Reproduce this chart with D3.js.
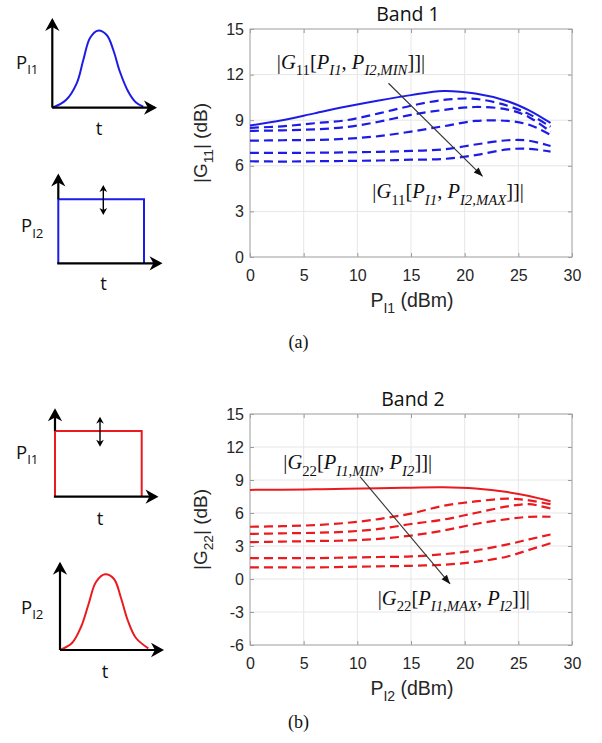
<!DOCTYPE html>
<html><head><meta charset="utf-8">
<script src="https://cdn.jsdelivr.net/npm/d3@7"></script>
<style>body{margin:0;background:#fff} svg{display:block}</style>
</head><body>
<svg id="c" width="602" height="743"></svg>
<script>
// ---------------- data ----------------
const xTicks = [0, 5, 10, 15, 20, 25, 30];
const yTicksTop = [0, 3, 6, 9, 12, 15];
const yTicksBot = [-6, -3, 0, 3, 6, 9, 12, 15];
const pIn = [0, 3, 6, 9, 12, 15, 18, 21, 24, 26, 28];   // input power (dBm)

// Band 1: |G11| (dB) vs P_I1, for increasing P_I2 (MIN -> MAX)
const g11Min   = [8.65, 9.0, 9.45, 9.9, 10.3, 10.65, 10.92, 10.75, 10.25, 9.65, 8.82];
const g11Lvl2  = [8.5, 8.6, 8.8, 9.0, 9.45, 9.95, 10.33, 10.4, 9.95, 9.4, 8.57];
const g11Lvl3  = [8.3, 8.33, 8.4, 8.55, 8.9, 9.35, 9.67, 9.87, 9.7, 9.2, 8.24];
const g11Lvl4  = [7.65, 7.68, 7.7, 7.78, 7.95, 8.25, 8.6, 8.95, 8.95, 8.7, 8.03];
const g11Lvl5  = [6.85, 6.85, 6.86, 6.88, 6.92, 6.98, 7.08, 7.4, 7.68, 7.65, 7.3];
const g11Max   = [6.3, 6.28, 6.3, 6.32, 6.35, 6.4, 6.45, 6.7, 7.08, 7.12, 6.93];

// Band 2: |G22| (dB) vs P_I2, for increasing P_I1 (MIN -> MAX)
const g22Min   = [8.1, 8.12, 8.15, 8.2, 8.25, 8.3, 8.33, 8.22, 7.9, 7.55, 7.06];
const g22Lvl2  = [4.75, 4.8, 4.9, 5.1, 5.45, 5.95, 6.65, 7.05, 7.3, 7.15, 6.8];
const g22Lvl3  = [4.1, 4.15, 4.2, 4.3, 4.55, 5.0, 5.4, 6.0, 6.6, 6.8, 6.4];
const g22Lvl4  = [3.35, 3.4, 3.45, 3.5, 3.65, 3.95, 4.4, 5.0, 5.45, 5.65, 5.66];
const g22Lvl5  = [1.9, 1.9, 1.9, 1.95, 2.0, 2.05, 2.25, 2.6, 3.15, 3.6, 4.05];
const g22Max   = [1.05, 1.05, 1.05, 1.1, 1.15, 1.2, 1.3, 1.55, 2.05, 2.65, 3.25];

// schematic pulse shapes for the little icons (hand-read points, px)
const bellTop = [[52.3,107.7],[66,100],[76.7,83.3],[83.3,60],[90,38],[97.7,30.7],[106.7,35],[113.3,50],[120,72],[128.3,91.7],[136,102.5],[143.3,106.7]];
const bellBot = [[60,650],[72,643],[81,627],[88.3,605],[96,582],[105,574.3],[114,579],[121,598],[128,621],[136,638],[148.3,648.3]];

// ---------------- drawing ----------------
const svg = d3.select("#c");
svg.append("rect").attr("width",602).attr("height",743).attr("fill","#fff");

const BLUE = "#1c1ce6", RED = "#ea1a1f";
const SANS = "'Liberation Sans', Arial, sans-serif";
const SERIF = "'Liberation Serif', 'Times New Roman', serif";
const ICONF = "'Open Sans', sans-serif";

function rich(g, segs, size, family) {
  const t = g.append("text").attr("font-family", family).attr("font-size", size);
  let shift = 0;
  segs.forEach(s => {
    const want = s.sub ? size * 0.32 : 0;
    const ts = t.append("tspan").text(s.t);
    if (want !== shift) { ts.attr("dy", want - shift); shift = want; }
    if (s.sub) ts.attr("font-size", size * 0.72);
    if (s.it) ts.attr("font-style", "italic");
  });
  return t;
}

function panel(o) {
  const x = d3.scaleLinear().domain([0, 30]).range([250, 572]);
  const y = d3.scaleLinear().domain(o.yDom).range([o.bottom, o.top]);
  const g = svg.append("g");
  // grid
  g.selectAll(".gx").data(xTicks).join("line")
    .attr("x1", d => x(d)).attr("x2", d => x(d)).attr("y1", o.top).attr("y2", o.bottom)
    .attr("stroke", "#e6e6e6").attr("stroke-width", 1);
  g.selectAll(".gy").data(o.yTicks).join("line")
    .attr("y1", d => y(d)).attr("y2", d => y(d)).attr("x1", 250).attr("x2", 572)
    .attr("stroke", "#e6e6e6").attr("stroke-width", 1);
  // axes (labels)
  const fmt = d => String(d);
  const ax = g.append("g").attr("transform", `translate(0,${o.bottom})`)
    .call(d3.axisBottom(x).tickValues(xTicks).tickSize(-4).tickPadding(13).tickFormat(fmt));
  const ay = g.append("g").attr("transform", `translate(250,0)`)
    .call(d3.axisLeft(y).tickValues(o.yTicks).tickSize(-4).tickPadding(6).tickFormat(fmt));
  const ay2 = g.append("g").attr("transform", `translate(572,0)`)
    .call(d3.axisRight(y).tickValues(o.yTicks).tickSize(-4).tickFormat(""));
  const ax2 = g.append("g").attr("transform", `translate(0,${o.top})`)
    .call(d3.axisTop(x).tickValues(xTicks).tickSize(-4).tickFormat(""));
  [ax, ay, ay2, ax2].forEach(a => {
    a.select(".domain").remove();
    a.selectAll("line").attr("stroke", "#9a9a9a");
    a.selectAll("text").attr("font-family", SANS).attr("font-size", 16).attr("fill", "#262626");
  });
  // box
  g.append("rect").attr("x", 250).attr("y", o.top).attr("width", 322).attr("height", o.bottom - o.top)
    .attr("fill", "none").attr("stroke", "#a8a8a8").attr("stroke-width", 1);
  // curves
  const line = d3.line().x((d, i) => x(pIn[i])).y(d => y(d)).curve(d3.curveCatmullRom.alpha(0.5));
  o.series.forEach((s, i) => {
    g.append("path").attr("d", line(s)).attr("fill", "none").attr("stroke", o.color)
      .attr("stroke-width", i === 0 ? 2 : 2.2)
      .attr("stroke-dasharray", i === 0 ? null : "9,5");
  });
  // title
  g.append("text").attr("x", o.titleX).attr("y", o.top - 8).attr("text-anchor", "middle")
    .attr("font-family", ICONF).attr("font-size", 19.5).attr("fill", "#111").text(o.title);
  // x label
  rich(g.append("g").attr("transform", `translate(412,${o.bottom + 50})`), o.xLabel, 19.5, SANS)
    .attr("text-anchor", "middle").attr("fill", "#262626");
  // y label
  rich(g.append("g").attr("transform", `translate(207,${(o.top + o.bottom) / 2}) rotate(-90)`), o.yLabel, 19, SANS)
    .attr("text-anchor", "middle").attr("fill", "#262626");
  // arrow annotation
  const [a0, a1] = o.arrow;
  const p0 = [x(a0[0]), y(a0[1])], p1 = [x(a1[0]), y(a1[1])];
  g.append("line").attr("x1", p0[0]).attr("y1", p0[1]).attr("x2", p1[0]).attr("y2", p1[1])
    .attr("stroke", "#333").attr("stroke-width", 1.1);
  const ang = Math.atan2(p1[1] - p0[1], p1[0] - p0[0]) * 180 / Math.PI;
  g.append("path").attr("d", "M0,0 L-9,-3.5 L-9,3.5 Z").attr("fill", "#111")
    .attr("transform", `translate(${p1[0]},${p1[1]}) rotate(${ang})`);
  // annotation texts
  o.notes.forEach(n => {
    rich(g.append("g").attr("transform", `translate(${x(n.at[0])},${y(n.at[1])})`), n.segs, 20.5, SERIF)
      .attr("fill", "#111");
  });
  // panel tag
  g.append("text").attr("x", 298.5).attr("y", o.tagY).attr("text-anchor", "middle")
    .attr("font-family", SERIF).attr("font-size", 18).attr("fill", "#111").text(o.tag);
}

const noteSegs = (gi, a, b) => [
  {t: "|"}, {t: "G", it: true}, {t: gi, sub: true}, {t: "["},
  {t: "P", it: true}, {t: a, sub: true, it: true}, {t: ", "},
  {t: "P", it: true}, {t: b, sub: true, it: true}, {t: "]]|"}
];

panel({
  yDom: [0, 15], yTicks: yTicksTop, top: 29, bottom: 257, color: BLUE,
  series: [g11Min, g11Lvl2, g11Lvl3, g11Lvl4, g11Lvl5, g11Max],
  title: "Band 1", titleX: 408,
  xLabel: [{t: "P"}, {t: "I1", sub: true}, {t: " (dBm)"}],
  yLabel: [{t: "|G"}, {t: "11", sub: true}, {t: "| (dB)"}],
  arrow: [[12.9, 11.43], [21.67, 5.31]],
  notes: [
    {at: [2.5, 12.4], segs: noteSegs("11", "I1", "I2,MIN")},
    {at: [11.4, 3.86], segs: noteSegs("11", "I1", "I2,MAX")}
  ],
  tag: "(a)", tagY: 348
});

panel({
  yDom: [-6, 15], yTicks: yTicksBot, top: 414, bottom: 645, color: RED,
  series: [g22Min, g22Lvl2, g22Lvl3, g22Lvl4, g22Lvl5, g22Max],
  title: "Band 2", titleX: 413,
  xLabel: [{t: "P"}, {t: "I2", sub: true}, {t: " (dBm)"}],
  yLabel: [{t: "|G"}, {t: "22", sub: true}, {t: "| (dB)"}],
  arrow: [[10.25, 9.3], [18.64, -0.45]],
  notes: [
    {at: [3.1, 10.0], segs: noteSegs("22", "I1,MIN", "I2")},
    {at: [11.9, -2.35], segs: noteSegs("22", "I1,MAX", "I2")}
  ],
  tag: "(b)", tagY: 728
});

// ---------------- icons ----------------
function arrowHead(g, x, y, ang, s) {
  g.append("path").attr("d", `M0,0 L${-s},${-s*0.55} L${-s*0.7},0 L${-s},${s*0.55} Z`)
    .attr("fill", "#000").attr("transform", `translate(${x},${y}) rotate(${ang})`);
}
function axesIcon(ox, oy, topY, rightX) {
  const g = svg.append("g");
  g.append("line").attr("x1", ox).attr("y1", oy).attr("x2", ox).attr("y2", topY + 2)
    .attr("stroke", "#000").attr("stroke-width", 2.2);
  g.append("line").attr("x1", ox).attr("y1", oy).attr("x2", rightX - 2).attr("y2", oy)
    .attr("stroke", "#000").attr("stroke-width", 2.2);
  arrowHead(g, ox, topY, -90, 13);
  arrowHead(g, rightX, oy, 0, 13);
  return g;
}
function dblArrow(x, y1, y2) {
  const g = svg.append("g");
  g.append("line").attr("x1", x).attr("x2", x).attr("y1", y1 + 3).attr("y2", y2 - 3)
    .attr("stroke", "#000").attr("stroke-width", 1.4);
  arrowHead(g, x, y1, -90, 7);
  arrowHead(g, x, y2, 90, 7);
}
function iconLabel(x, y, sub) {
  rich(svg.append("g").attr("transform", `translate(${x},${y})`), [{t: "P"}, {t: sub, sub: true}], 18.5, ICONF)
    .attr("fill", "#111");
}
function tLabel(x, y) {
  svg.append("text").attr("x", x).attr("y", y).attr("text-anchor", "middle")
    .attr("font-family", ICONF).attr("font-size", 18.5).attr("fill", "#111").text("t");
}
const bell = d3.line().curve(d3.curveCatmullRom.alpha(0.5));

// top pair (blue)
{
  const g = axesIcon(52.3, 107.7, 18, 157);
  g.insert("path", ":first-child").attr("d", bell(bellTop)).attr("fill", "none").attr("stroke", BLUE).attr("stroke-width", 2);
  iconLabel(16, 68.5, "I1"); tLabel(99, 135);

  const g2 = svg.append("g");
  g2.append("path").attr("d", "M58.3,263.3 V199.3 H144 V263.3").attr("fill", "none").attr("stroke", BLUE).attr("stroke-width", 2);
  svg.append("line").attr("x1", 58.3).attr("x2", 58.3).attr("y1", 199.3).attr("y2", 176).attr("stroke", "#000").attr("stroke-width", 2.2);
  svg.append("line").attr("x1", 57.2).attr("x2", 160).attr("y1", 263.3).attr("y2", 263.3).attr("stroke", "#000").attr("stroke-width", 2.2);
  arrowHead(svg, 58.3, 173.5, -90, 13); arrowHead(svg, 162.5, 263.3, 0, 13);
  dblArrow(103.3, 185, 215);
  iconLabel(21, 232, "I2"); tLabel(103.5, 290);
}
// bottom pair (red)
{
  const g2 = svg.append("g");
  g2.append("path").attr("d", "M55,496.7 V431 H141.7 V496.7").attr("fill", "none").attr("stroke", RED).attr("stroke-width", 2);
  svg.append("line").attr("x1", 55).attr("x2", 55).attr("y1", 431).attr("y2", 411).attr("stroke", "#000").attr("stroke-width", 2.2);
  svg.append("line").attr("x1", 53.9).attr("x2", 156).attr("y1", 496.7).attr("y2", 496.7).attr("stroke", "#000").attr("stroke-width", 2.2);
  arrowHead(svg, 55, 408.3, -90, 13); arrowHead(svg, 158.5, 496.7, 0, 13);
  dblArrow(100, 416.7, 446.7);
  iconLabel(16, 458.5, "I1"); tLabel(100, 525);

  const g = axesIcon(60, 650, 561.7, 164);
  g.insert("path", ":first-child").attr("d", bell(bellBot)).attr("fill", "none").attr("stroke", RED).attr("stroke-width", 2);
  iconLabel(21, 613.5, "I2"); tLabel(105, 678);
}
</script>
</body></html>
